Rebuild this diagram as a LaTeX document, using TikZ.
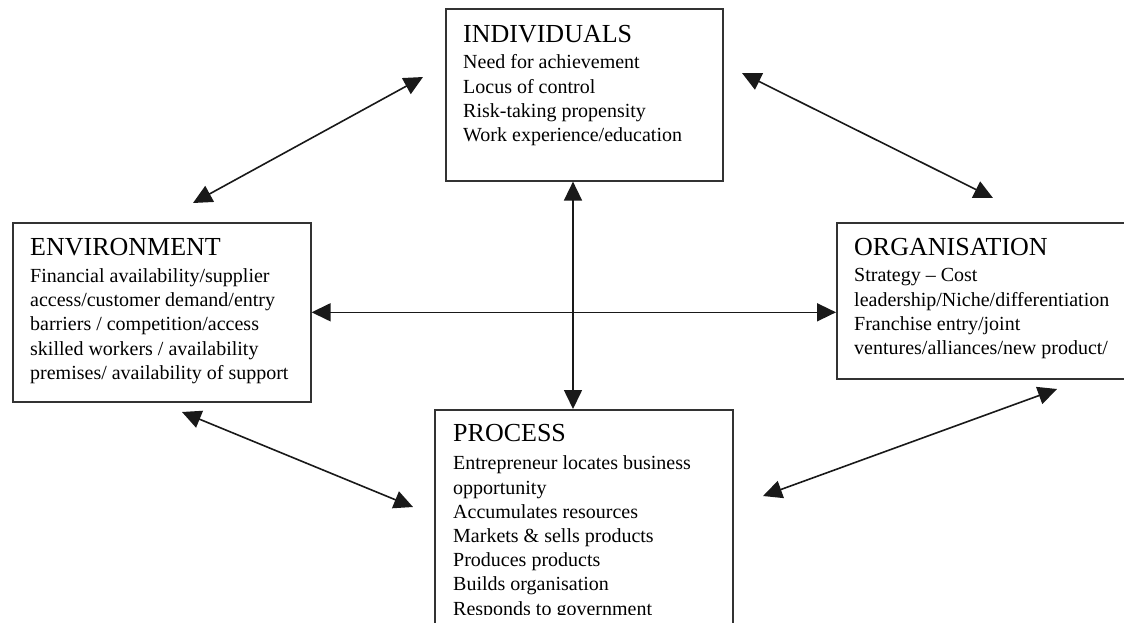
\documentclass[tikz,border=0pt]{standalone}
\usepackage{fontspec}
\setmainfont{Liberation Serif}
\usetikzlibrary{arrows.meta}
\newcommand\boxhead{\fontsize{26}{30}\selectfont}
\newcommand\boxbody{\fontsize{20}{24.2}\selectfont}
\begin{document}
\begin{tikzpicture}[x=1pt,y=-1pt,
  panel/.style={draw=black!80, line width=1.6pt, fill=none, inner sep=0pt, anchor=north west},
  paneltext/.style={anchor=base west, inner sep=0pt, text=black},
  link/.style={draw=black!90, line width=1.6pt,
    {Triangle[length=19pt,width=18pt]}-{Triangle[length=19pt,width=18pt]}}]
\clip (0,0) rectangle (1124,622);
\fill[white] (0,0) rectangle (1124,622);

% the four panels
\node[panel, minimum width=277pt, minimum height=172pt] (ind) at (445,8) {};
\node[panel, minimum width=298pt, minimum height=179pt] (env) at (12,222) {};
\node[panel, minimum width=320pt, minimum height=156pt] (org) at (836,222) {};
\node[panel, minimum width=298pt, minimum height=240pt] (proc) at (434,409) {};

% panel texts
\node[paneltext] (indtext) at (463,42) {\parbox[t]{250pt}{\boxhead INDIVIDUALS\par\vspace{2.6pt}\boxbody
  Need for achievement\\
  Locus of control\\
  Risk-taking propensity\\
  Work experience/education}};

\node[paneltext] (envtext) at (30,255) {\parbox[t]{280pt}{\boxhead ENVIRONMENT\par\vspace{3.2pt}\boxbody
  Financial availability/supplier\\
  access/customer demand/entry\\
  barriers / competition/access\\
  skilled workers / availability\\
  premises/ availability of support}};

\node[paneltext] (orgtext) at (854,255) {\parbox[t]{270pt}{\boxhead ORGANISATION\par\vspace{2.6pt}\boxbody
  Strategy -- Cost\\
  leadership/Niche/differentiation\\
  Franchise entry/joint\\
  ventures/alliances/new product/}};

\begin{scope}
\clip (434,409) rectangle (732,614);
\node[paneltext] (proctext) at (453,441.7) {\parbox[t]{275pt}{\boxhead PROCESS\par\vspace{4pt}\boxbody
  Entrepreneur locates business\\
  opportunity\\
  Accumulates resources\\
  Markets \& sells products\\
  Produces products\\
  Builds organisation\\
  Responds to government}};
\end{scope}

% connector end points
\coordinate (vx) at (573,0);
\coordinate (ie1) at (423,77);
\coordinate (ie2) at (193,203);
\coordinate (io1) at (742,73);
\coordinate (io2) at (993,198);
\coordinate (ep1) at (182,412);
\coordinate (ep2) at (413,507);
\coordinate (op1) at (1057,389);
\coordinate (op2) at (763,496);

% connectors
\draw[link] (ie1) -- (ie2);
\draw[link] (io1) -- (io2);
\draw[link] (env.east) -- (env.east -| org.west);
\draw[link] (vx |- ind.south) -- (vx |- proc.north);
\draw[link] (ep1) -- (ep2);
\draw[link] (op1) -- (op2);
\end{tikzpicture}
\end{document}
